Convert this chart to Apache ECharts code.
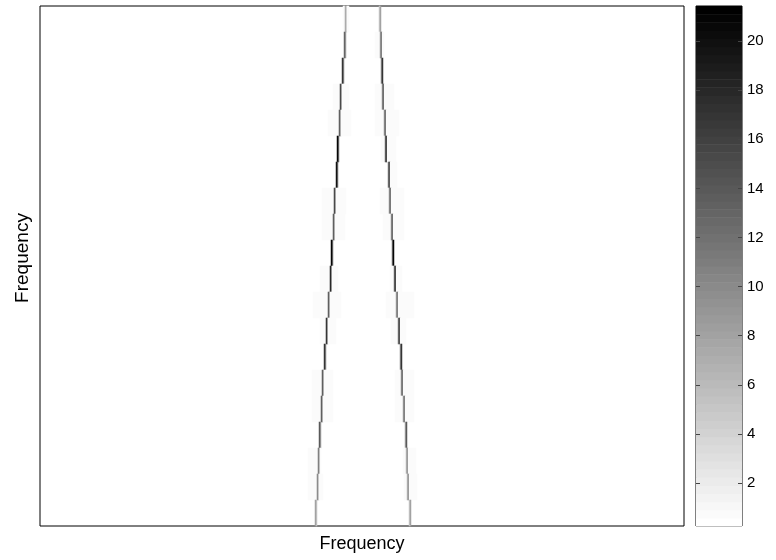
<!DOCTYPE html>
<html>
<head>
<meta charset="utf-8">
<script src="https://cdn.jsdelivr.net/npm/echarts@6/dist/echarts.min.js"></script>
<style>
  html, body { margin: 0; padding: 0; background: #fff; }
  #main { width: 776px; height: 560px; }
</style>
</head>
<body>
<div id="main"></div>
<script>
// grid size of the image (columns are ~1px wide, 20 frequency rows)
const rowCount = 20;
const colCount = 644;

// left ridge: column index and peak value per row (top row first)
const leftCol  = [305, 304, 302, 300, 299, 297, 296, 294, 293, 291, 290, 288, 286, 284, 282, 281, 279, 278, 277, 275];
const leftPeak = [8, 13, 17, 17, 15, 21, 20, 17, 15, 21, 20, 15, 19, 17, 15, 15, 14, 12, 11, 8];
const leftEdge = [5, 8, 10, 10, 9, 12, 12, 10, 9, 12, 12, 9, 11, 10, 9, 9, 8, 7, 6, 5];

// right ridge
const rightCol  = [340, 341, 342, 343, 345, 346, 349, 350, 352, 353, 355, 357, 359, 361, 362, 364, 366, 367, 368, 370];
const rightPeak = [8, 14, 17, 16, 15, 20, 18, 15, 16, 21, 20, 14, 19, 17, 15, 14, 14, 11, 11, 8];
const rightEdge = [5, 8, 10, 9, 9, 12, 11, 9, 9, 12, 12, 8, 11, 10, 9, 8, 8, 6, 6, 5];

// faint spread around the ridges: [fromCol, toCol] per row
const leftHalo = [[303, 308], null, null, [293, 308], [288, 310], null, null, [282, 305], [282, 304], null,
                  [280, 297], [273, 300], [280, 295], null, [272, 292], [272, 292], null, [268, 280], [268, 282], null];
const rightHalo = [null, [335, 343], null, [335, 353], [335, 358], [341, 355], [348, 356], [340, 363], [343, 363], null,
                   [350, 361], [346, 373], [351, 365], null, [355, 373], [355, 373], null, [363, 375], [364, 376], null];
const haloValue = 0.6;

// colour scale
const valueMin = 0.25;
const valueMax = 21.43;
const colorbarTicks = [2, 4, 6, 8, 10, 12, 14, 16, 18, 20];
const colorLevels = 64;

const xCats = [];
for (let i = 0; i < colCount; i++) xCats.push(String(i));
const yCats = [];
for (let i = 0; i < rowCount; i++) yCats.push(String(i));

// build heatmap cells (only non-empty ones)
const cells = [];
for (let r = 0; r < rowCount; r++) {
  const row = new Map();
  [leftHalo[r], rightHalo[r]].forEach(h => {
    if (h) for (let c = h[0]; c <= h[1]; c++) row.set(c, haloValue);
  });
  row.set(leftCol[r] + 1, leftEdge[r]);
  row.set(leftCol[r], leftPeak[r]);
  row.set(rightCol[r] - 1, rightEdge[r]);
  row.set(rightCol[r], rightPeak[r]);
  row.forEach((v, c) => cells.push([c, r, v]));
}

const levels = [];
for (let k = 0; k < colorLevels; k++) levels.push([k]);

const font = 'Liberation Sans, Arial, sans-serif';

var myChart = echarts.init(document.getElementById('main'));
myChart.setOption({
  animation: false,
  backgroundColor: '#fff',
  grid: [
    { left: 40, top: 6, width: 644, height: 520, show: true, borderColor: '#000', borderWidth: 1, backgroundColor: '#fff' },
    { left: 696, top: 6, width: 46, height: 520, show: true, borderColor: '#000', borderWidth: 1, backgroundColor: 'transparent' }
  ],
  xAxis: [
    { type: 'category', gridIndex: 0, data: xCats, show: false },
    { type: 'value', gridIndex: 1, min: 0, max: 1, show: false }
  ],
  yAxis: [
    { type: 'category', gridIndex: 0, data: yCats, inverse: true, show: false },
    {
      type: 'value', gridIndex: 1, min: valueMin, max: valueMax, position: 'right', z: 10,
      axisLine: { show: false, onZero: false },
      splitLine: { show: false },
      axisTick: { show: true, inside: true, length: 4, customValues: colorbarTicks, lineStyle: { color: '#444', width: 1 } },
      axisLabel: { show: true, margin: 5, customValues: colorbarTicks, color: '#000', fontSize: 15, fontFamily: font }
    },
    {
      type: 'value', gridIndex: 1, min: valueMin, max: valueMax, position: 'left', z: 10,
      axisLine: { show: false, onZero: false },
      splitLine: { show: false },
      axisTick: { show: true, inside: true, length: 4, customValues: colorbarTicks, lineStyle: { color: '#444', width: 1 } },
      axisLabel: { show: false }
    }
  ],
  visualMap: {
    show: false,
    type: 'continuous',
    seriesIndex: 0,
    min: valueMin,
    max: valueMax,
    inRange: { color: ['#ffffff', '#000000'] }
  },
  graphic: [
    {
      type: 'text', x: 362, y: 544,
      style: { text: 'Frequency', font: '18px ' + font, fill: '#000', textAlign: 'center', textVerticalAlign: 'middle', align: 'center', verticalAlign: 'middle' }
    },
    {
      type: 'text', x: 23, y: 258, rotation: Math.PI / 2,
      style: { text: 'Frequency', font: '19px ' + font, fill: '#000', textAlign: 'center', textVerticalAlign: 'middle', align: 'center', verticalAlign: 'middle' }
    }
  ],
  series: [
    {
      type: 'heatmap',
      xAxisIndex: 0,
      yAxisIndex: 0,
      data: cells,
      progressive: 0
    },
    {
      // colorbar drawn as stacked grey bands
      type: 'custom',
      xAxisIndex: 1,
      yAxisIndex: 1,
      data: levels,
      silent: true,
      renderItem: function (params, api) {
        const k = api.value(0);
        const step = (valueMax - valueMin) / colorLevels;
        const p0 = api.coord([0, valueMin + k * step]);
        const p1 = api.coord([1, valueMin + (k + 1) * step]);
        const g = Math.round(255 * (1 - k / (colorLevels - 1)));
        return {
          type: 'rect',
          shape: { x: p0[0], y: p1[1], width: p1[0] - p0[0], height: p0[1] - p1[1] + 0.5 },
          style: { fill: 'rgb(' + g + ',' + g + ',' + g + ')' }
        };
      },
      z: 1
    }
  ]
});
</script>
</body>
</html>
